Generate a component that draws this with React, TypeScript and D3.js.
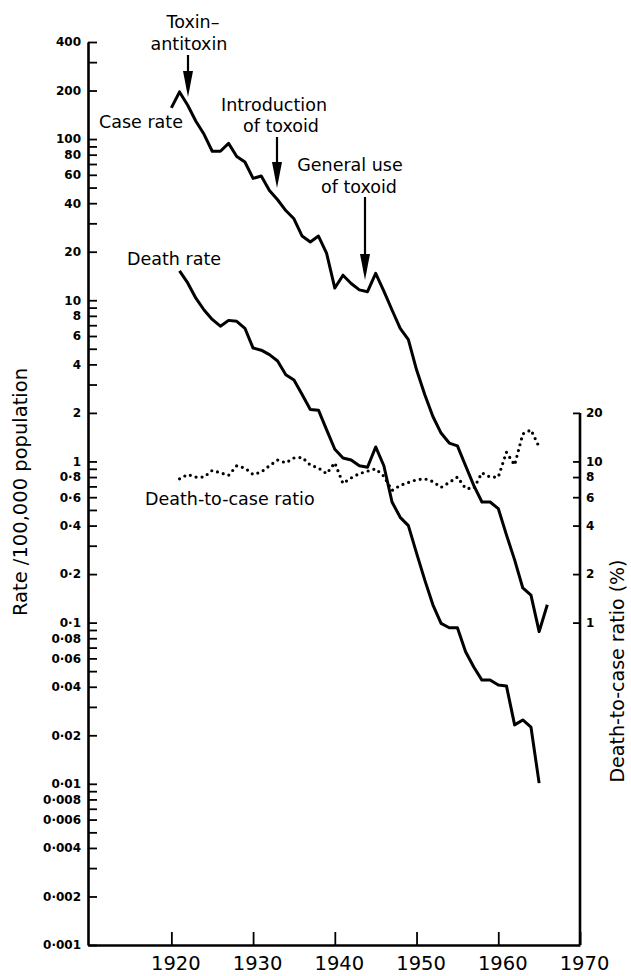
import * as d3 from "d3";
import { useEffect, useRef } from "react";

// diphtheria, rate per 100,000 population
const caseYears = [
  1920, 1921, 1922, 1923, 1924, 1925, 1926, 1927, 1928, 1929, 1930, 1931, 1932,
  1933, 1934, 1935, 1936, 1937, 1938, 1939, 1940, 1941, 1942, 1943, 1944, 1945,
  1946, 1947, 1948, 1949, 1950, 1951, 1952, 1953, 1954, 1955, 1956, 1957, 1958,
  1959, 1960, 1961, 1962, 1963, 1964, 1965, 1966,
];
const caseRate = [
  156, 196, 162, 129, 107, 84, 84, 94, 78, 72, 57, 59, 48, 42, 36, 32, 25, 23,
  25, 19.5, 11.9, 14.3, 12.7, 11.6, 11.3, 14.7, 11.4, 8.7, 6.7, 5.7, 3.7, 2.6,
  1.9, 1.5, 1.3, 1.25, 0.94, 0.71, 0.56, 0.56, 0.51, 0.35, 0.245, 0.164, 0.148,
  0.088, 0.129,
];

const deathYears = [
  1921, 1922, 1923, 1924, 1925, 1926, 1927, 1928, 1929, 1930, 1931, 1932, 1933,
  1934, 1935, 1936, 1937, 1938, 1939, 1940, 1941, 1942, 1943, 1944, 1945, 1946,
  1947, 1948, 1949, 1950, 1951, 1952, 1953, 1954, 1955, 1956, 1957, 1958, 1959,
  1960, 1961, 1962, 1963, 1964, 1965,
];
const deathRate = [
  15.2, 12.8, 10.3, 8.7, 7.6, 6.9, 7.5, 7.4, 6.7, 5.05, 4.9, 4.6, 4.2, 3.45,
  3.2, 2.6, 2.1, 2.08, 1.57, 1.19, 1.05, 1.02, 0.94, 0.92, 1.23, 0.94, 0.56,
  0.45, 0.4, 0.27, 0.184, 0.129, 0.099, 0.093, 0.093, 0.066, 0.053, 0.044,
  0.044, 0.041, 0.0405, 0.0232, 0.0249, 0.0225, 0.0101,
];

// death-to-case ratio, percent
const ratioYears = deathYears;
const ratioPct = [
  7.8, 8.3, 8.0, 8.0, 8.8, 8.5, 8.2, 9.4, 9.1, 8.3, 8.6, 9.4, 10.2, 9.8, 10.5,
  10.6, 9.5, 9.1, 8.4, 9.8, 7.3, 7.9, 8.4, 8.7, 9.0, 8.1, 6.6, 7.1, 7.4, 7.7,
  7.8, 7.5, 6.9, 7.4, 8.0, 6.8, 6.8, 8.5, 8.0, 8.0, 11.4, 9.5, 14.8, 15.7, 12.3,
];

const yearTicks = [1920, 1930, 1940, 1950, 1960, 1970];
const leftTicks = [
  0.001, 0.002, 0.003, 0.004, 0.005, 0.006, 0.007, 0.008, 0.009, 0.01, 0.02,
  0.03, 0.04, 0.05, 0.06, 0.07, 0.08, 0.09, 0.1, 0.2, 0.3, 0.4, 0.5, 0.6, 0.7,
  0.8, 0.9, 1, 2, 3, 4, 5, 6, 7, 8, 9, 10, 20, 30, 40, 50, 60, 70, 80, 90, 100,
  200, 300, 400,
];
const leftLabels: Record<string, string> = {
  "400": "400", "200": "200", "100": "100", "80": "80", "60": "60", "40": "40",
  "20": "20", "10": "10", "8": "8", "6": "6", "4": "4", "2": "2", "1": "1",
  "0.8": "0·8", "0.6": "0·6", "0.4": "0·4", "0.2": "0·2", "0.1": "0·1",
  "0.08": "0·08", "0.06": "0·06", "0.04": "0·04", "0.02": "0·02", "0.01": "0·01",
  "0.008": "0·008", "0.006": "0·006", "0.004": "0·004", "0.002": "0·002",
  "0.001": "0·001",
};
const rightTicks = [1, 2, 4, 6, 8, 10, 20];

const FONT = "'DejaVu Sans', sans-serif";

const App = () => {
  const ref = useRef<SVGSVGElement>(null);

  useEffect(() => {
    const svg = d3.select(ref.current);
    svg.selectAll("*").remove();
    const width = 631;
    const height = 976;
    svg.attr("width", width).attr("height", height);

    const x = d3.scaleLinear().domain([1909.8, 1970]).range([88, 580]);
    const y = d3.scaleLog().domain([0.001, 400]).range([945, 42]);
    // right axis in % : 10x the left value
    const yR = d3.scaleLog().domain([0.01, 4000]).range([945, 42]);

    // left axis
    const gL = svg
      .append("g")
      .attr("transform", `translate(${x(1909.8)},0)`)
      .call(
        d3
          .axisLeft(y)
          .tickValues(leftTicks)
          .tickSize(-9)
          .tickSizeOuter(0)
          .tickPadding(7)
          .tickFormat((d) => leftLabels[String(+d)] ?? "")
      );
    gL.select(".domain").attr("stroke-width", 2.6);
    gL.selectAll(".tick line").attr("stroke-width", 1.8);
    gL.selectAll("text")
      .attr("font-family", FONT)
      .attr("font-weight", "bold")
      .attr("font-size", 12)
      .attr("fill", "#000");

    // bottom axis
    const gB = svg
      .append("g")
      .attr("transform", `translate(0,${y(0.001)})`)
      .call(
        d3
          .axisBottom(x)
          .tickValues(yearTicks)
          .tickSize(-13)
          .tickSizeOuter(0)
          .tickPadding(11)
          .tickFormat(d3.format("d"))
      );
    gB.select(".domain").attr("stroke-width", 2.6);
    gB.selectAll(".tick line").attr("stroke-width", 1.8);
    gB.selectAll("text")
      .attr("font-family", FONT)
      .attr("font-size", 19.5)
      .attr("dx", 4)
      .attr("fill", "#000");

    // right axis
    const gR = svg
      .append("g")
      .attr("transform", `translate(${x(1970)},0)`)
      .call(
        d3
          .axisRight(yR)
          .tickValues(rightTicks)
          .tickSize(-7)
          .tickSizeOuter(0)
          .tickPadding(6)
          .tickFormat(d3.format("d"))
      );
    gR.select(".domain").remove();
    gR.append("line")
      .attr("x1", 0)
      .attr("x2", 0)
      .attr("y1", yR(20))
      .attr("y2", yR(0.01))
      .attr("stroke", "#000")
      .attr("stroke-width", 2.6);
    gR.selectAll(".tick line").attr("stroke-width", 1.8);
    gR.selectAll("text")
      .attr("font-family", FONT)
      .attr("font-weight", "bold")
      .attr("font-size", 12)
      .attr("fill", "#000");

    // lines
    const line = d3
      .line<[number, number]>()
      .x((d) => x(d[0]))
      .y((d) => y(d[1]));
    const lineR = d3
      .line<[number, number]>()
      .x((d) => x(d[0]))
      .y((d) => yR(d[1]));

    svg
      .append("path")
      .attr("d", line(caseYears.map((yr, i) => [yr, caseRate[i]])))
      .attr("fill", "none")
      .attr("stroke", "#000")
      .attr("stroke-width", 3)
      .attr("stroke-linejoin", "round");

    svg
      .append("path")
      .attr("d", line(deathYears.map((yr, i) => [yr, deathRate[i]])))
      .attr("fill", "none")
      .attr("stroke", "#000")
      .attr("stroke-width", 3)
      .attr("stroke-linejoin", "round");

    svg
      .append("path")
      .attr("d", lineR(ratioYears.map((yr, i) => [yr, ratioPct[i]])))
      .attr("fill", "none")
      .attr("stroke", "#000")
      .attr("stroke-width", 3.2)
      .attr("stroke-linecap", "round")
      .attr("stroke-dasharray", "0 6");

    // annotations
    const label = (tx: number, ty: number, s: string, anchor = "start") =>
      svg
        .append("text")
        .attr("x", tx)
        .attr("y", ty)
        .attr("text-anchor", anchor)
        .attr("font-family", FONT)
        .attr("font-size", 17.5)
        .attr("fill", "#000")
        .text(s);

    const arrow = (ax: number, y1: number, y2: number) => {
      svg
        .append("line")
        .attr("x1", ax)
        .attr("x2", ax)
        .attr("y1", y1)
        .attr("y2", y2 - 20)
        .attr("stroke", "#000")
        .attr("stroke-width", 2.2);
      svg
        .append("path")
        .attr("d", `M${ax - 5},${y2 - 26}L${ax + 5},${y2 - 26}L${ax},${y2}Z`)
        .attr("fill", "#000");
    };

    label(193, 28, "Toxin–", "middle");
    label(189, 50, "antitoxin", "middle");
    arrow(188, 55, 97);

    label(99, 128, "Case rate");

    label(274, 111, "Introduction", "middle");
    label(281, 132, "of toxoid", "middle");
    arrow(277, 137, 188);

    label(350, 171, "General use", "middle");
    label(359, 193, "of toxoid", "middle");
    arrow(365, 197, 280);

    label(127, 265, "Death rate");
    label(145, 505, "Death-to-case ratio");

    // axis titles
    svg
      .append("text")
      .attr("transform", `translate(27,492) rotate(-90)`)
      .attr("text-anchor", "middle")
      .attr("font-family", FONT)
      .attr("font-size", 19.5)
      .attr("fill", "#000")
      .text("Rate /100,000 population");

    svg
      .append("text")
      .attr("transform", `translate(624,671) rotate(-90)`)
      .attr("text-anchor", "middle")
      .attr("font-family", FONT)
      .attr("font-size", 19)
      .attr("fill", "#000")
      .text("Death-to-case ratio (%)");
  }, []);

  return (
    <svg
      ref={ref}
      style={{ position: "absolute", left: 0, top: 0, background: "#fff" }}
    ></svg>
  );
};

export default App;
